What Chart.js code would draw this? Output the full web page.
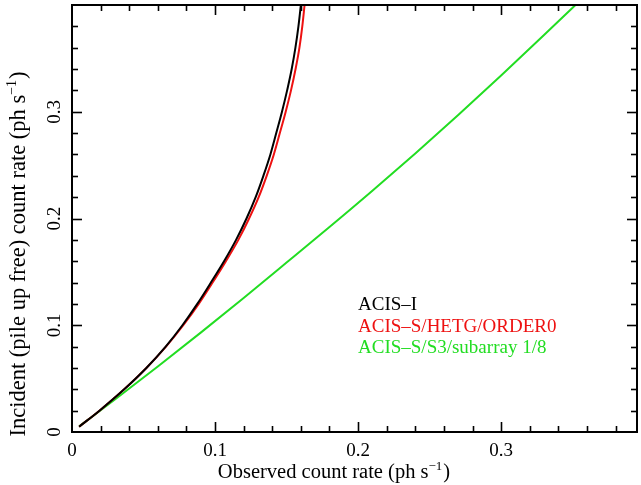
<!DOCTYPE html>
<html>
<head>
<meta charset="utf-8">
<script src="https://cdn.jsdelivr.net/npm/chart.js@4.4.0/dist/chart.umd.min.js"></script>
<style>
  html, body { margin: 0; padding: 0; background: #fff; }
  #wrap { width: 641px; height: 485px; position: relative; }
</style>
</head>
<body>
<div id="wrap"><canvas id="c" width="641" height="485"></canvas></div>
<script>
// ---- Data (observed count rate -> incident count rate, ph s^-1) ----
const seriesNames = ['ACIS\u2013I', 'ACIS\u2013S/HETG/ORDER0', 'ACIS\u2013S/S3/subarray 1/8'];
const seriesColors = ['#000000', '#ee1111', '#22dd22'];

const acisIIncident = [0.005, 0.02, 0.04, 0.06, 0.08, 0.10, 0.12, 0.14, 0.16, 0.18, 0.20, 0.22, 0.24, 0.26, 0.28, 0.30, 0.32, 0.34, 0.36, 0.38, 0.40];
const acisIObserved = [0.005, 0.0192, 0.0365, 0.052, 0.0655, 0.0772, 0.0876, 0.0971, 0.1063, 0.1147, 0.1220, 0.1284, 0.1338, 0.1387, 0.1428, 0.1468, 0.1504, 0.1536, 0.1562, 0.1583, 0.1600];

const hetgIncident = [0.005, 0.02, 0.04, 0.06, 0.08, 0.10, 0.12, 0.14, 0.16, 0.18, 0.20, 0.22, 0.24, 0.26, 0.28, 0.30, 0.32, 0.34, 0.36, 0.38, 0.40];
const hetgObserved = [0.005, 0.0192, 0.0365, 0.052, 0.0657, 0.0778, 0.0886, 0.0983, 0.1076, 0.1163, 0.1238, 0.1305, 0.1361, 0.1411, 0.1453, 0.1494, 0.1531, 0.1563, 0.1590, 0.1610, 0.1626];

const subarrayObserved = [0.005, 0.03, 0.06, 0.09, 0.12, 0.15, 0.18, 0.21, 0.24, 0.27, 0.30, 0.33, 0.352];
const subarrayIncident = [0.0053, 0.0304, 0.0614, 0.0931, 0.1256, 0.1587, 0.1920, 0.2260, 0.2610, 0.2970, 0.3340, 0.3718, 0.4000];

// ---- Axis ticks ----
const xTickValues = [0, 0.1, 0.2, 0.3];
const xTickLabels = ['0', '0.1', '0.2', '0.3'];
const yTickValues = [0, 0.1, 0.2, 0.3];
const yTickLabels = ['0', '0.1', '0.2', '0.3'];
const xMajorMarks = [0.1, 0.2, 0.3];
const xMinorMarks = [0.02, 0.04, 0.06, 0.08, 0.12, 0.14, 0.16, 0.18, 0.22, 0.24, 0.26, 0.28, 0.32, 0.34, 0.36, 0.38];
const yMajorMarks = [0.1, 0.2, 0.3];
const yMinorMarks = [0.02, 0.04, 0.06, 0.08, 0.12, 0.14, 0.16, 0.18, 0.22, 0.24, 0.26, 0.28, 0.32, 0.34, 0.36, 0.38];
const xRange = [0, 0.395];
const yRange = [0, 0.40];

const xTitle = ['Observed count rate (ph s', '\u22121', ')'];
const yTitle = ['Incident (pile up free) count rate (ph s', '\u22121', ')'];

const FONT = "'Liberation Serif', 'Times New Roman', serif";

function pts(xs, ys) { return xs.map((v, i) => ({ x: v, y: ys[i] })); }

const framePlugin = {
  id: 'frame',
  afterDatasetsDraw(chart) {
    const { ctx, chartArea: { left, right, top, bottom }, scales: { x, y } } = chart;
    ctx.save();
    ctx.strokeStyle = '#000';
    ctx.lineWidth = 1.6;
    const line = (x1, y1, x2, y2) => { ctx.beginPath(); ctx.moveTo(x1, y1); ctx.lineTo(x2, y2); ctx.stroke(); };
    xMinorMarks.forEach(v => { const p = Math.round(x.getPixelForValue(v)) + 0.5; line(p, bottom, p, bottom - 6); line(p, top, p, top + 6); });
    xMajorMarks.forEach(v => { const p = Math.round(x.getPixelForValue(v)) + 0.5; line(p, bottom, p, bottom - 10); line(p, top, p, top + 10); });
    yMinorMarks.forEach(v => { const p = Math.round(y.getPixelForValue(v)) + 0.5; line(left, p, left + 6, p); line(right, p, right - 6, p); });
    yMajorMarks.forEach(v => { const p = Math.round(y.getPixelForValue(v)) + 0.5; line(left, p, left + 10, p); line(right, p, right - 10, p); });
    ctx.lineWidth = 2;
    ctx.strokeRect(left, top, right - left, bottom - top);

    // axis titles with superscripts
    function drawSup(parts, cx, cy, rot, size) {
      ctx.save();
      ctx.translate(cx, cy);
      ctx.rotate(rot);
      ctx.fillStyle = '#000';
      ctx.textBaseline = 'alphabetic';
      ctx.textAlign = 'left';
      const big = size + 'px ' + FONT, small = Math.round(size * 0.62) + 'px ' + FONT;
      ctx.font = big; const w1 = ctx.measureText(parts[0]).width; const w3 = ctx.measureText(parts[2]).width;
      ctx.font = small; const w2 = ctx.measureText(parts[1]).width;
      let sx = -(w1 + w2 + w3 + 1) / 2;
      ctx.font = big; ctx.fillText(parts[0], sx, 0); sx += w1;
      ctx.font = small; ctx.fillText(parts[1], sx, -size * 0.38); sx += w2 + 1;
      ctx.font = big; ctx.fillText(parts[2], sx, 0);
      ctx.restore();
    }
    drawSup(xTitle, 334, 478, 0, 20.5);
    drawSup(yTitle, 25, 254, -Math.PI / 2, 22.5);

    // legend text
    ctx.font = '19px ' + FONT;
    ctx.textAlign = 'left';
    ctx.textBaseline = 'alphabetic';
    seriesNames.forEach((n, i) => {
      ctx.fillStyle = seriesColors[i];
      ctx.fillText(n, 358, 310 + i * 21.7);
    });
    ctx.restore();
  }
};

new Chart(document.getElementById('c'), {
  type: 'scatter',
  data: {
    datasets: [
      { label: seriesNames[0], data: pts(acisIObserved, acisIIncident), borderColor: seriesColors[0] },
      { label: seriesNames[1], data: pts(hetgObserved, hetgIncident), borderColor: seriesColors[1] },
      { label: seriesNames[2], data: pts(subarrayObserved, subarrayIncident), borderColor: seriesColors[2] }
    ].map(d => Object.assign(d, { showLine: true, pointRadius: 0, borderWidth: 2, cubicInterpolationMode: 'monotone', fill: false }))
  },
  options: {
    responsive: false,
    animation: false,
    layout: { padding: { left: 0, right: 4, top: 5, bottom: 0 } },
    plugins: { legend: { display: false }, tooltip: { enabled: false } },
    scales: {
      x: {
        type: 'linear', min: xRange[0], max: xRange[1],
        grid: { display: false, drawTicks: false },
        border: { display: false },
        afterBuildTicks: s => { s.ticks = xTickValues.map(v => ({ value: v })); },
        afterFit: s => { s.height = 53; s.paddingLeft = 0; s.paddingRight = 0; },
        ticks: {
          color: '#000', padding: 8, maxRotation: 0, minRotation: 0,
          font: { family: FONT, size: 19 },
          callback: (v) => { const i = xTickValues.indexOf(v); return i >= 0 ? xTickLabels[i] : ''; }
        }
      },
      y: {
        type: 'linear', min: yRange[0], max: yRange[1],
        grid: { display: false, drawTicks: false },
        border: { display: false },
        afterBuildTicks: s => { s.ticks = yTickValues.map(v => ({ value: v })); },
        afterFit: s => { s.width = 72; s.paddingTop = 0; s.paddingBottom = 0; },
        ticks: {
          color: '#000', padding: 5, minRotation: 90, maxRotation: 90, crossAlign: 'center',
          font: { family: FONT, size: 19 },
          callback: (v) => { const i = yTickValues.indexOf(v); return i >= 0 ? yTickLabels[i] : ''; }
        }
      }
    }
  },
  plugins: [framePlugin]
});
</script>
</body>
</html>
